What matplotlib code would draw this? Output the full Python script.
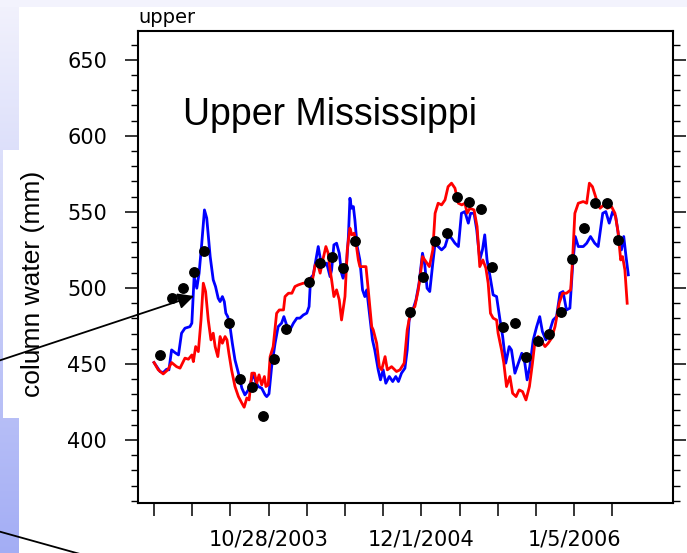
#!/usr/bin/env python3
# -*- coding: utf-8 -*-
"""
Upper Mississippi column water: two model curves (blue / red) + monthly obs (black dots).
Output: out.png (687x553)
"""

import datetime as dt
import numpy as np
import matplotlib
matplotlib.use("Agg")
import matplotlib.pyplot as plt
from matplotlib.patches import Rectangle
from matplotlib.ticker import MultipleLocator, FixedLocator, FuncFormatter
import matplotlib.dates as mdates

plt.rcParams["font.family"] = ["Liberation Sans", "DejaVu Sans"]

# ------------------------------------------------------------
# data (days since 2003-01-01, column water in mm)
# ------------------------------------------------------------
BASE = dt.date(2003, 1, 1)

blue_days = [0, 16, 24, 33, 39, 46, 55, 64, 72, 81, 94, 99, 105, 112, 118, 125,
             132, 138, 147, 155, 161, 168, 173, 179, 184, 188, 193, 199, 205, 212,
             221, 230, 238, 247, 254, 260, 266, 273, 282, 291, 295, 301, 308, 317,
             325, 334, 340, 347, 356, 365, 374, 382, 391, 400, 406, 410, 417, 424,
             430, 436, 443, 452, 461, 465, 471, 478, 485, 491, 495, 503, 509, 513,
             517, 522, 526, 532, 539, 546, 552, 557, 565, 572, 578, 587, 593, 600,
             607, 616, 625, 633, 640, 648, 657, 663, 668, 675, 686, 694, 703, 709,
             715, 722, 730, 736, 744, 753, 762, 770, 779, 788, 797, 805, 814, 823,
             829, 838, 845, 853, 860, 866, 872, 880, 888, 897, 906, 913, 921, 930,
             936, 945, 954, 963, 971, 977, 984, 993, 1002, 1010, 1017, 1026, 1037,
             1045, 1054, 1063, 1071, 1080, 1089, 1096, 1103, 1111, 1124, 1133, 1143,
             1154, 1163, 1175, 1183, 1192, 1201, 1209, 1218, 1224, 1230, 1236, 1242]
blue_mm = [450.9, 444.9, 444.3, 446.5, 446.1, 459.2, 457.4, 455.9, 470.2, 473.5,
           474.5, 476.8, 507.4, 499.8, 509.7, 529.4, 551.3, 545.9, 520.6, 505.3,
           500.9, 493.2, 491.0, 494.3, 491.0, 483.4, 481.1, 474.5, 463.6, 452.6,
           443.9, 434.0, 429.6, 432.9, 438.4, 443.9, 438.4, 435.1, 434.0, 429.6,
           428.5, 430.3, 448.2, 463.6, 474.5, 476.8, 481.1, 475.7, 472.4, 476.8,
           480.1, 480.1, 482.2, 483.4, 487.7, 506.4, 508.6, 518.4, 527.2, 518.4,
           514.0, 516.3, 507.4, 511.8, 528.3, 529.4, 522.8, 509.7, 506.4, 511.8,
           533.8, 559.0, 552.4, 553.5, 544.7, 527.2, 518.4, 498.7, 494.3, 498.7,
           481.1, 465.8, 459.2, 446.1, 439.5, 446.1, 437.3, 441.7, 438.4, 441.7,
           438.4, 443.9, 447.2, 459.2, 478.9, 483.3, 492.1, 503.1, 522.8, 515.1,
           499.8, 497.6, 516.3, 529.4, 527.2, 525.0, 527.2, 533.8, 532.7, 529.4,
           527.2, 549.1, 550.2, 542.6, 549.1, 549.1, 538.2, 518.4, 525.0, 534.9,
           518.4, 507.4, 495.4, 494.3, 478.9, 468.0, 450.5, 461.4, 459.2, 443.9,
           450.5, 457.0, 450.5, 439.5, 448.2, 465.8, 474.5, 481.1, 471.3, 465.8,
           472.4, 478.9, 481.1, 496.5, 497.6, 485.5, 486.7, 514.0, 533.8, 527.2,
           527.2, 529.4, 533.8, 529.4, 527.2, 549.1, 550.2, 542.6, 550.2, 546.9,
           531.6, 525.0, 533.8, 520.6, 508.6]

red_days = [0, 11, 24, 36, 46, 59, 68, 81, 90, 99, 103, 109, 116, 123, 129, 135,
            142, 149, 155, 160, 167, 173, 179, 186, 191, 196, 203, 212, 221, 230,
            236, 243, 249, 256, 263, 269, 275, 282, 289, 293, 299, 304, 312, 321,
            328, 339, 343, 352, 361, 369, 378, 391, 400, 408, 415, 422, 428, 435,
            442, 450, 456, 461, 465, 471, 478, 485, 491, 500, 506, 513, 518, 524,
            529, 535, 539, 555, 561, 570, 574, 583, 590, 596, 605, 611, 622, 635,
            644, 655, 663, 672, 683, 692, 698, 703, 709, 721, 730, 736, 744, 753,
            762, 770, 779, 788, 797, 806, 814, 820, 827, 838, 846, 853, 861, 869,
            875, 881, 888, 897, 901, 910, 916, 923, 932, 939, 948, 956, 965, 974,
            983, 991, 997, 1006, 1015, 1024, 1032, 1041, 1050, 1061, 1070, 1080,
            1091, 1096, 1102, 1111, 1124, 1133, 1140, 1148, 1159, 1168, 1178, 1187,
            1198, 1207, 1215, 1222, 1227, 1233, 1239]
red_mm = [450.9, 446.1, 443.4, 446.1, 450.9, 448.2, 447.2, 453.8, 453.1, 455.9,
          451.5, 461.4, 458.1, 478.9, 503.1, 497.6, 478.9, 465.8, 470.2, 461.4,
          454.8, 468.0, 463.6, 468.0, 465.8, 457.0, 446.1, 435.1, 428.5, 424.2,
          421.5, 427.6, 426.3, 443.9, 443.9, 437.3, 442.8, 436.2, 441.7, 435.1,
          436.2, 454.8, 461.4, 483.3, 485.5, 485.5, 494.3, 496.5, 496.5, 500.9,
          502.0, 503.1, 503.1, 506.4, 505.3, 515.1, 516.3, 509.7, 518.4, 527.2,
          522.8, 511.8, 505.3, 494.3, 498.7, 492.1, 478.9, 494.3, 525.0, 539.3,
          534.9, 536.0, 529.4, 518.4, 514.0, 514.0, 498.7, 474.5, 472.4, 463.6,
          448.2, 446.1, 454.8, 446.1, 448.2, 445.0, 446.1, 450.5, 472.4, 484.4,
          487.7, 498.7, 509.7, 520.6, 518.4, 514.0, 525.0, 549.1, 555.7, 554.6,
          557.9, 566.6, 568.9, 565.6, 555.7, 554.6, 555.7, 549.1, 552.4, 551.3,
          540.3, 514.0, 518.4, 513.0, 503.1, 483.3, 480.1, 478.9, 470.2, 459.2,
          450.5, 435.1, 441.7, 430.7, 428.5, 432.9, 431.8, 426.3, 435.1, 450.5,
          463.6, 468.0, 464.7, 461.4, 463.6, 466.9, 474.5, 490.0, 496.5, 496.5,
          498.7, 518.4, 549.1, 555.7, 556.8, 555.7, 568.9, 566.6, 557.9, 552.4,
          554.6, 552.4, 553.5, 549.1, 537.1, 518.4, 520.6, 511.8, 489.9]

obs_days = [16, 46, 75, 105, 130, 195, 225, 256, 285, 314, 345, 405, 435, 465,
            496, 526, 671, 705, 736, 766, 794, 825, 855, 886, 914, 945, 974,
            1005, 1035, 1065, 1095, 1126, 1155, 1185, 1215]
obs_mm = [455.9, 493.2, 500.2, 510.3, 524.3, 477.2, 440.1, 435.1, 416.0, 453.5,
          472.8, 504.1, 516.6, 520.4, 513.4, 530.9, 484.4, 507.4, 531.1, 536.0,
          560.1, 556.8, 552.0, 514.0, 474.3, 477.2, 454.8, 465.3, 469.7, 484.4,
          518.9, 539.3, 555.7, 555.7, 531.6]

xtick_days = list(range(0, 1201, 100))
xlabel_days = [300, 700, 1100]   # 10/28/2003, 12/1/2004, 1/5/2006


def to_dates(days):
    return [BASE + dt.timedelta(days=int(d)) for d in days]


W, H = 687, 553
fig = plt.figure(figsize=(W / 100, H / 100), dpi=100, facecolor="white")

# ---- slide background (pixel coords) ----
bg = fig.add_axes([0, 0, 1, 1], zorder=-5)
bg.set_xlim(0, W)
bg.set_ylim(H, 0)
bg.axis("off")
grad = np.linspace(0, 1, 256)[:, None]
c_top = np.array([0.95, 0.95, 0.99])
c_bot = np.array([0.64, 0.68, 0.96])
img = c_top[None, None, :] * (1 - grad[:, :, None]) + c_bot[None, None, :] * grad[:, :, None]
bg.imshow(img, extent=(0, 19, H, 0), aspect="auto")
bg.add_patch(Rectangle((0, 0), W, 7, color="#f3f3fd", lw=0))
bg.add_patch(Rectangle((3, 150), 130, 268, color="white", lw=0))

# ---- main axes ----
ax = fig.add_axes([138 / W, 1 - 503 / H, (673 - 138) / W, (503 - 31) / H])
ax.plot(to_dates(blue_days), blue_mm, color="#0000ff", lw=2.0, zorder=3)
ax.plot(to_dates(red_days), red_mm, color="#ff0000", lw=2.0, zorder=3)
ax.plot(to_dates(obs_days), obs_mm, "o", color="black", ms=6.8, zorder=4)

ax.set_xlim(mdates.date2num(BASE - dt.timedelta(days=42)),
            mdates.date2num(BASE + dt.timedelta(days=1359)))
ax.set_ylim(358.5, 669)

xt = mdates.date2num(to_dates(xtick_days))
ax.xaxis.set_major_locator(FixedLocator(xt))
lab_nums = set(mdates.date2num(to_dates(xlabel_days)))


def _fmt(x, pos):
    if any(abs(x - v) < 0.5 for v in lab_nums):
        d = mdates.num2date(x)
        return f"{d.month}/{d.day}/{d.year}"
    return ""


ax.xaxis.set_major_formatter(FuncFormatter(_fmt))
ax.yaxis.set_major_locator(MultipleLocator(50))
ax.yaxis.set_minor_locator(MultipleLocator(10))
ax.tick_params(axis="x", which="major", direction="out", length=9.4, width=1.1,
               pad=10, labelsize=15)
ax.tick_params(axis="y", which="major", direction="out", length=9.4, width=1.1,
               pad=13, labelsize=15, right=True)
ax.tick_params(axis="y", which="minor", direction="out", length=5, width=1.0,
               right=True)
for lab in ax.get_xticklabels() + ax.get_yticklabels():
    lab.set_family("DejaVu Sans")
for s in ax.spines.values():
    s.set_linewidth(1.5)

ax.text(0.084, 0.80, "Upper Mississippi", transform=ax.transAxes,
        fontsize=27, ha="left", va="baseline")
ax.text(0.0, 1.008, "upper", transform=ax.transAxes, fontsize=14,
        family="DejaVu Sans", ha="left", va="bottom")

fig.text(33 / W, 1 - 284 / H, "column water (mm)", rotation=90, fontsize=19,
         ha="center", va="center")

# ---- overlay: slide arrows ----
ov = fig.add_axes([0, 0, 1, 1], zorder=10)
ov.set_xlim(0, W)
ov.set_ylim(H, 0)
ov.axis("off")
ov.patch.set_alpha(0)
ov.annotate("", xy=(194, 296), xytext=(-2, 361),
            arrowprops=dict(arrowstyle="-|>", color="black", lw=1.3,
                            mutation_scale=24, shrinkA=0, shrinkB=0))
ov.plot([0, 80], [531.7, 554], color="black", lw=1.3, clip_on=False)

fig.savefig("out.png", dpi=100)
